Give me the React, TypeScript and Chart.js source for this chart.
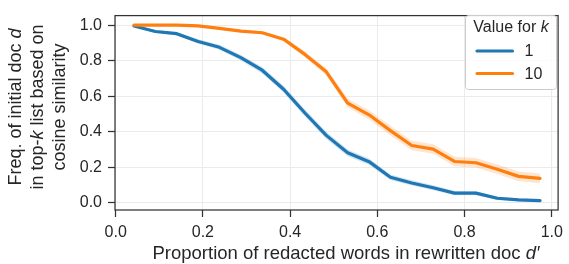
import React, { useEffect, useRef } from "react";
import { Chart, registerables } from "chart.js";

Chart.register(...registerables);

const X_VALUES = [0.042, 0.091, 0.14, 0.189, 0.238, 0.287, 0.336, 0.385, 0.434, 0.483, 0.532, 0.581, 0.63, 0.679, 0.728, 0.777, 0.826, 0.875, 0.924, 0.973];
const K1_VALUES = [0.995, 0.964, 0.952, 0.908, 0.875, 0.817, 0.746, 0.639, 0.505, 0.379, 0.281, 0.231, 0.143, 0.111, 0.084, 0.054, 0.054, 0.025, 0.016, 0.012];
const K10_VALUES = [1.0, 1.0, 1.0, 0.996, 0.982, 0.966, 0.957, 0.921, 0.835, 0.737, 0.561, 0.495, 0.406, 0.322, 0.302, 0.232, 0.225, 0.188, 0.148, 0.137];
const K1_ERR = [0.005, 0.008, 0.01, 0.012, 0.014, 0.016, 0.018, 0.019, 0.02, 0.02, 0.019, 0.018, 0.016, 0.015, 0.014, 0.012, 0.011, 0.01, 0.008, 0.007];
const K10_ERR = [0, 0, 0, 0.003, 0.005, 0.006, 0.008, 0.011, 0.016, 0.02, 0.024, 0.026, 0.027, 0.027, 0.027, 0.027, 0.027, 0.027, 0.027, 0.027];
const X_TICKS = [0, 0.2, 0.4, 0.6, 0.8, 1.0];
const Y_TICKS = [0, 0.2, 0.4, 0.6, 0.8, 1.0];
const LEGEND_TITLE = "Value for ";
const LEGEND_LABELS = ["1", "10"];

const BLUE = "#1f77b4";
const ORANGE = "#ff7f0e";
const FONT = '"Liberation Sans", Arial, sans-serif';
const SPINE = "#333333";

type Seg = { t: string; it?: boolean };

function drawRich(ctx: CanvasRenderingContext2D, segs: Seg[], size: number, cx: number, y: number) {
  const fonts = segs.map((s) => `${s.it ? "italic " : ""}${size}px ${FONT}`);
  let total = 0;
  const widths = segs.map((s, i) => {
    ctx.font = fonts[i];
    const w = ctx.measureText(s.t).width;
    total += w;
    return w;
  });
  let x = cx - total / 2;
  ctx.textAlign = "left";
  segs.forEach((s, i) => {
    ctx.font = fonts[i];
    ctx.fillText(s.t, x, y);
    x += widths[i];
  });
}

const decorPlugin = {
  id: "decor",
  afterDatasetsDraw(chart: any) {
    const { ctx, chartArea } = chart;
    ctx.save();
    ctx.strokeStyle = SPINE;
    ctx.lineWidth = 1.25;
    ctx.strokeRect(chartArea.left, chartArea.top, chartArea.right - chartArea.left, chartArea.bottom - chartArea.top);
    ctx.restore();
  },
  afterDraw(chart: any) {
    const { ctx } = chart;
    ctx.save();
    ctx.fillStyle = "#262626";
    ctx.textBaseline = "alphabetic";
    drawRich(ctx, [{ t: "Proportion of redacted words in rewritten doc " }, { t: "d′", it: true }], 18.5, 346, 259);
    ctx.save();
    ctx.translate(0, 107);
    ctx.rotate(-Math.PI / 2);
    drawRich(ctx, [{ t: "Freq. of initial doc " }, { t: "d", it: true }], 18, 0, 21);
    drawRich(ctx, [{ t: "in top-" }, { t: "k", it: true }, { t: " list based on" }], 18, 0, 43);
    drawRich(ctx, [{ t: "cosine similarity" }], 18, 0, 65);
    ctx.restore();
    const lx = 465.5, ly = 15.5, lw = 91, lh = 74, r = 3;
    ctx.beginPath();
    ctx.moveTo(lx + r, ly);
    ctx.arcTo(lx + lw, ly, lx + lw, ly + lh, r);
    ctx.arcTo(lx + lw, ly + lh, lx, ly + lh, r);
    ctx.arcTo(lx, ly + lh, lx, ly, r);
    ctx.arcTo(lx, ly, lx + lw, ly, r);
    ctx.closePath();
    ctx.fillStyle = "rgba(255,255,255,0.8)";
    ctx.fill();
    ctx.strokeStyle = "#cccccc";
    ctx.lineWidth = 1;
    ctx.stroke();
    ctx.fillStyle = "#262626";
    ctx.textBaseline = "middle";
    drawRich(ctx, [{ t: LEGEND_TITLE }, { t: "k", it: true }], 16, 511, 28);
    const colors = [BLUE, ORANGE];
    const ys = [51, 73.5];
    LEGEND_LABELS.forEach((lab, i) => {
      ctx.strokeStyle = colors[i];
      ctx.lineWidth = 3.2;
      ctx.lineCap = "round";
      ctx.beginPath();
      ctx.moveTo(477, ys[i]);
      ctx.lineTo(512.5, ys[i]);
      ctx.stroke();
      ctx.font = `16px ${FONT}`;
      ctx.textAlign = "left";
      ctx.fillStyle = "#262626";
      ctx.fillText(lab, 524.5, ys[i] + 1);
    });
    ctx.restore();
  },
};

export default function App() {
  const ref = useRef<HTMLCanvasElement | null>(null);
  useEffect(() => {
    if (!ref.current) return;
    const pts = (ys: number[]) => X_VALUES.map((x, i) => ({ x, y: ys[i] }));
    const k1Up = K1_VALUES.map((v, i) => v + K1_ERR[i]);
    const k1Lo = K1_VALUES.map((v, i) => v - K1_ERR[i]);
    const k10Up = K10_VALUES.map((v, i) => v + K10_ERR[i]);
    const k10Lo = K10_VALUES.map((v, i) => v - K10_ERR[i]);
    const band = { borderWidth: 0, pointRadius: 0, tension: 0 };
    const chart = new Chart(ref.current, {
      type: "line",
      data: {
        datasets: [
          { label: "10", data: pts(K10_VALUES), borderColor: ORANGE, borderWidth: 3.2, pointRadius: 0, fill: false, order: 0, borderCapStyle: "round", borderJoinStyle: "round" },
          { label: "1", data: pts(K1_VALUES), borderColor: BLUE, borderWidth: 3.2, pointRadius: 0, fill: false, order: 1, borderCapStyle: "round", borderJoinStyle: "round" },
          { label: "k10up", data: pts(k10Up), ...band, fill: false, order: 2 },
          { label: "k10lo", data: pts(k10Lo), ...band, fill: 2, backgroundColor: "rgba(255,127,14,0.2)", order: 2 },
          { label: "k1up", data: pts(k1Up), ...band, fill: false, order: 3 },
          { label: "k1lo", data: pts(k1Lo), ...band, fill: 4, backgroundColor: "rgba(31,119,180,0.2)", order: 3 },
        ] as any,
      },
      options: {
        responsive: false,
        animation: false,
        devicePixelRatio: 1,
        layout: { padding: { left: 0, top: 6, right: 7, bottom: 0 } },
        plugins: { legend: { display: false }, tooltip: { enabled: false } },
        scales: {
          x: {
            type: "linear",
            min: -0.0015,
            max: 1.0145,
            afterBuildTicks: (s: any) => { s.ticks = X_TICKS.map((v) => ({ value: v })); },
            afterFit: (s: any) => { s.height = 54; },
            ticks: { callback: (v: any) => Number(v).toFixed(1), color: "#262626", font: { family: FONT, size: 16 }, padding: 6, maxRotation: 0 },
            grid: { color: "#ebebeb", lineWidth: 1, tickColor: SPINE, tickLength: 7, tickWidth: 1.25 },
            border: { display: false },
          },
          y: {
            type: "linear",
            min: -0.0413,
            max: 1.0537,
            afterBuildTicks: (s: any) => { s.ticks = Y_TICKS.map((v) => ({ value: v })); },
            afterFit: (s: any) => { s.width = 115; },
            ticks: { callback: (v: any) => Number(v).toFixed(1), color: "#262626", font: { family: FONT, size: 16 }, padding: 6 },
            grid: { color: "#ebebeb", lineWidth: 1, tickColor: SPINE, tickLength: 7, tickWidth: 1.25 },
            border: { display: false },
          },
        },
      } as any,
      plugins: [decorPlugin],
    });
    return () => chart.destroy();
  }, []);
  return (
    <div style={{ position: "fixed", left: 0, top: 0, width: 569, height: 264, background: "#fff" }}>
      <canvas ref={ref} width={569} height={264} style={{ display: "block" }} />
    </div>
  );
}
